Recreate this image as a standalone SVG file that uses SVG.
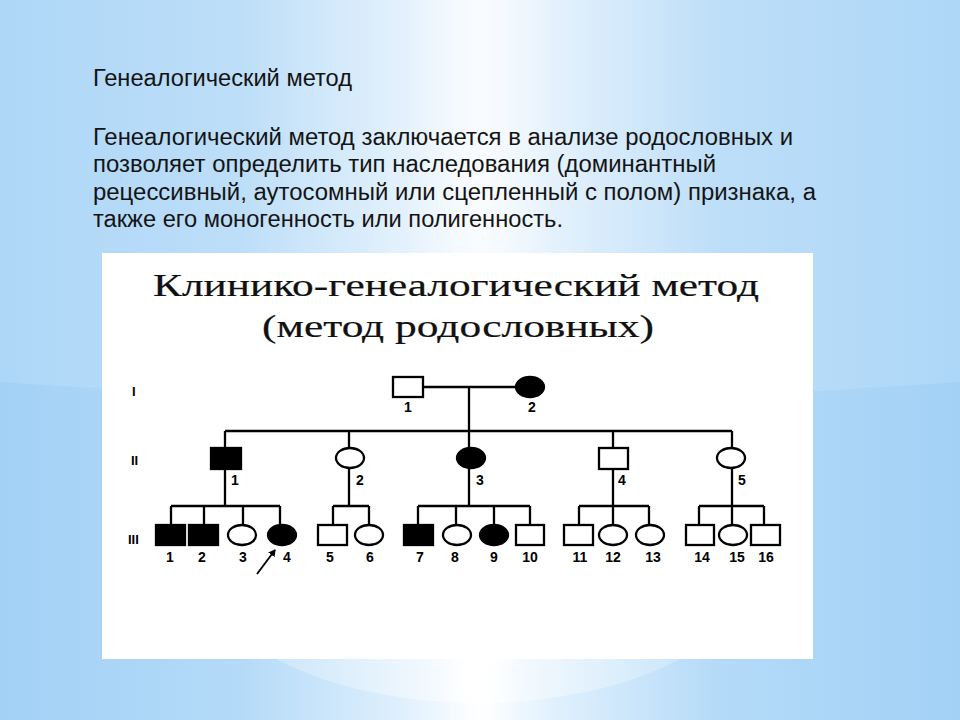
<svg xmlns="http://www.w3.org/2000/svg" width="960" height="720" viewBox="0 0 960 720">
  <defs>
    <linearGradient id="bgH" x1="0" y1="0" x2="1" y2="0">
      <stop offset="0" stop-color="#a2d1f6"/>
      <stop offset="0.25" stop-color="#b4daf8"/>
      <stop offset="0.5" stop-color="#f4faff"/>
      <stop offset="0.75" stop-color="#b4daf8"/>
      <stop offset="1" stop-color="#a2d1f6"/>
    </linearGradient>
    <linearGradient id="glowH" x1="0" y1="0" x2="1" y2="0">
      <stop offset="0" stop-color="#ffffff" stop-opacity="0"/>
      <stop offset="0.5" stop-color="#ffffff" stop-opacity="0.85"/>
      <stop offset="1" stop-color="#ffffff" stop-opacity="0"/>
    </linearGradient>
    <linearGradient id="bottomEll" x1="0" y1="0" x2="1" y2="0">
      <stop offset="0" stop-color="#b8ddf9"/>
      <stop offset="0.5" stop-color="#ffffff"/>
      <stop offset="1" stop-color="#b8ddf9"/>
    </linearGradient>
    <linearGradient id="bandV" x1="0" y1="0" x2="1" y2="0">
      <stop offset="0" stop-color="#ffffff" stop-opacity="0"/>
      <stop offset="0.5" stop-color="#ffffff" stop-opacity="0.9"/>
      <stop offset="1" stop-color="#ffffff" stop-opacity="0"/>
    </linearGradient>
    <marker id="arrowHead" markerWidth="8" markerHeight="8" refX="6" refY="4" orient="auto" markerUnits="userSpaceOnUse">
      <path d="M0,0 L7,4 L0,8 Z" fill="#000"/>
    </marker>
  </defs>
  <style>
    .txt { font-family: "Liberation Sans", Arial, sans-serif; font-size: 23.5px; fill: #141414; }
    .title { font-family: "Liberation Serif", "Times New Roman", serif; font-size: 32px; fill: #111; stroke: #111; stroke-width: 0.2; }
    .lbl { font-family: "Liberation Sans", Arial, sans-serif; font-size: 14px; font-weight: bold; fill: #000; text-anchor: middle; }
    .gen { font-family: "Liberation Sans", Arial, sans-serif; font-size: 13px; font-weight: bold; fill: #000; }
    .ln { stroke: #000; stroke-width: 2.3; fill: none; }
    .open { fill: #fff; stroke: #000; stroke-width: 2.3; }
    .aff { fill: #000; stroke: #000; stroke-width: 2.3; }
  </style>

  <!-- background -->
  <rect x="0" y="0" width="960" height="720" fill="url(#bgH)"/>
  <ellipse cx="480" cy="-1000" rx="3000" ry="1400" fill="#ffffff" fill-opacity="0.12"/>
  <rect x="400" y="0" width="160" height="720" fill="url(#glowH)" fill-opacity="0.5"/>
  <ellipse cx="478" cy="560" rx="280" ry="143" fill="url(#bottomEll)"/>
  <rect x="440" y="560" width="80" height="160" fill="url(#bandV)"/>

  <!-- header texts -->
  <text class="txt" x="93" y="86" textLength="259" lengthAdjust="spacingAndGlyphs">Генеалогический метод</text>
  <text class="txt" x="93" y="145" textLength="700" lengthAdjust="spacingAndGlyphs">Генеалогический метод заключается в анализе родословных и</text>
  <text class="txt" x="93" y="172" textLength="623" lengthAdjust="spacingAndGlyphs">позволяет определить тип наследования (доминантный</text>
  <text class="txt" x="93" y="200" textLength="723" lengthAdjust="spacingAndGlyphs">рецессивный, аутосомный или сцепленный с полом) признака, а</text>
  <text class="txt" x="93" y="227" textLength="470" lengthAdjust="spacingAndGlyphs">также его моногенность или полигенность.</text>

  <!-- white panel -->
  <rect x="102" y="253" width="711" height="406" fill="#ffffff"/>
  <text class="title" x="456" y="296" text-anchor="middle" textLength="606" lengthAdjust="spacingAndGlyphs">Клинико-генеалогический метод</text>
  <text class="title" x="458" y="337" text-anchor="middle" textLength="392" lengthAdjust="spacingAndGlyphs">(метод родословных)</text>

  <!-- generation labels -->
  <text class="gen" x="132" y="396">I</text>
  <text class="gen" x="131" y="465">II</text>
  <text class="gen" x="128" y="544">III</text>

  <!-- connectors -->
  <g id="connectors">
    <path class="ln" d="M423,387 H516 M469,387 V431 M225,431 H732"/>
    <path class="ln" d="M225,431 V448 M349,431 V448 M469,431 V448 M613,431 V448 M732,431 V448"/>
    <path class="ln" d="M225,469 V506 M349,468 V506 M469,468 V506 M613,469 V506 M732,468 V506"/>
    <path class="ln" d="M171,506 H280 M171,506 V525 M204,506 V525 M243,506 V525 M280,506 V525"/>
    <path class="ln" d="M333,506 H369 M333,506 V525 M369,506 V525"/>
    <path class="ln" d="M418,506 H530 M418,506 V525 M456,506 V525 M494,506 V525 M530,506 V525"/>
    <path class="ln" d="M579,506 H649 M579,506 V525 M613,506 V525 M649,506 V525"/>
    <path class="ln" d="M699,506 H764 M699,506 V525 M732,506 V525 M764,506 V525"/>
    <line x1="257" y1="574" x2="275" y2="550" stroke="#000" stroke-width="1.8" marker-end="url(#arrowHead)"/>
  </g>

  <!-- generation I -->
  <g id="I-1"><rect class="open" x="393" y="377" width="30" height="20"/><text class="lbl" x="408" y="412">1</text></g>
  <g id="I-2"><ellipse class="aff" cx="530" cy="387" rx="14" ry="10"/><text class="lbl" x="532" y="412">2</text></g>

  <!-- generation II -->
  <g id="II-1"><rect class="aff" x="211" y="448" width="30" height="21"/><text class="lbl" x="235" y="485">1</text></g>
  <g id="II-2"><ellipse class="open" cx="350" cy="458" rx="14" ry="10"/><text class="lbl" x="360" y="485">2</text></g>
  <g id="II-3"><ellipse class="aff" cx="471" cy="458" rx="14" ry="10"/><text class="lbl" x="480" y="485">3</text></g>
  <g id="II-4"><rect class="open" x="599" y="448" width="29" height="21"/><text class="lbl" x="622" y="485">4</text></g>
  <g id="II-5"><ellipse class="open" cx="731" cy="458" rx="14" ry="10"/><text class="lbl" x="742" y="485">5</text></g>

  <!-- generation III -->
  <g id="III-1"><rect class="aff" x="156" y="525" width="29" height="20"/><text class="lbl" x="170" y="562">1</text></g>
  <g id="III-2"><rect class="aff" x="189" y="525" width="29" height="20"/><text class="lbl" x="202" y="562">2</text></g>
  <g id="III-3"><ellipse class="open" cx="242" cy="535" rx="14" ry="10"/><text class="lbl" x="243" y="562">3</text></g>
  <g id="III-4"><ellipse class="aff" cx="282" cy="535" rx="14" ry="10"/><text class="lbl" x="287" y="562">4</text></g>
  <g id="III-5"><rect class="open" x="318" y="525" width="29" height="20"/><text class="lbl" x="330" y="562">5</text></g>
  <g id="III-6"><ellipse class="open" cx="369" cy="535" rx="14" ry="10"/><text class="lbl" x="370" y="562">6</text></g>
  <g id="III-7"><rect class="aff" x="404" y="525" width="29" height="20"/><text class="lbl" x="420" y="562">7</text></g>
  <g id="III-8"><ellipse class="open" cx="457" cy="535" rx="14" ry="10"/><text class="lbl" x="455" y="562">8</text></g>
  <g id="III-9"><ellipse class="aff" cx="494" cy="535" rx="14" ry="10"/><text class="lbl" x="494" y="562">9</text></g>
  <g id="III-10"><rect class="open" x="516" y="525" width="28" height="20"/><text class="lbl" x="530" y="562">10</text></g>
  <g id="III-11"><rect class="open" x="564" y="525" width="29" height="20"/><text class="lbl" x="580" y="562">11</text></g>
  <g id="III-12"><ellipse class="open" cx="613" cy="535" rx="14" ry="10"/><text class="lbl" x="613" y="562">12</text></g>
  <g id="III-13"><ellipse class="open" cx="650" cy="535" rx="14" ry="10"/><text class="lbl" x="653" y="562">13</text></g>
  <g id="III-14"><rect class="open" x="686" y="525" width="28" height="20"/><text class="lbl" x="702" y="562">14</text></g>
  <g id="III-15"><ellipse class="open" cx="733" cy="535" rx="14" ry="10"/><text class="lbl" x="737" y="562">15</text></g>
  <g id="III-16"><rect class="open" x="751" y="525" width="29" height="20"/><text class="lbl" x="766" y="562">16</text></g>
</svg>
